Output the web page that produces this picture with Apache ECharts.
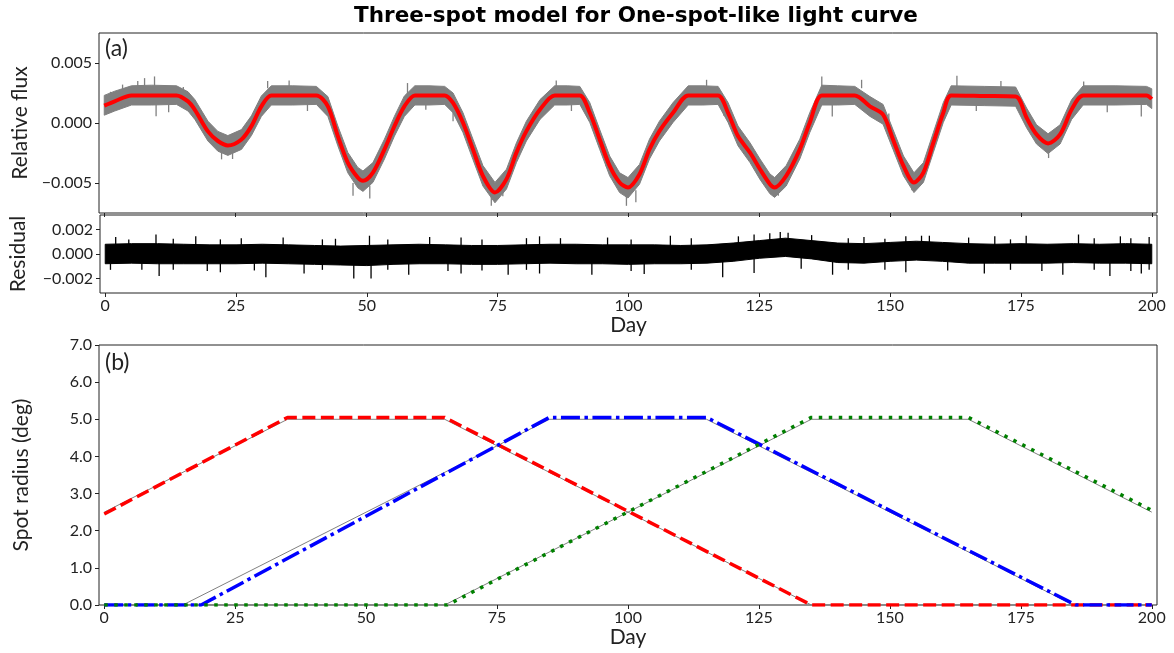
<!DOCTYPE html>
<html><head><meta charset="utf-8">
<script src="https://cdn.jsdelivr.net/npm/echarts@6/dist/echarts.min.js"></script>
<style>html,body{margin:0;padding:0;background:#fff}#c{width:1174px;height:653px}</style>
</head><body><div id="c"></div>
<script>
// ---------- tick labels ----------
const dayTicks = [0, 25, 50, 75, 100, 125, 150, 175, 200];
const fluxTicks = [-0.005, 0, 0.005];
const residualTicks = [-0.002, 0, 0.002];

// ---------- panel (a): light curve ----------
const modelDays = [0,2,5.2,9,13.8,16,17.3,19.8,21.7,23.6,26.2,28.1,30,31.9,36,40.5,42.7,44.6,46.5,48.4,49.4,51.3,53.5,55.4,57.3,59.3,62,65,66.6,68.5,70.4,72.3,74.6,76.8,78.7,80.6,83.2,86,88.4,90.8,92.7,94.6,96.5,98.4,100,102.2,104.1,106,108.6,111.5,114.3,117.2,119.1,121,123.3,125.2,127.1,128,130.2,132.8,134.7,137,140,143.3,146.2,148.7,150.6,152.6,154.6,156.4,158.3,160.2,161.7,168,174,176.1,178,180.2,182.5,184.7,186.9,193,199,200];
const modelFlux = [1.45e-3,1.81e-3,2.3e-3,2.3e-3,2.3e-3,1.8e-3,1.1e-3,-0.7e-3,-1.5e-3,-1.87e-3,-1.37e-3,-0.26e-3,1.39e-3,2.3e-3,2.3e-3,2.3e-3,1.39e-3,-1.09e-3,-3.3e-3,-4.54e-3,-4.82e-3,-4.13e-3,-2.2e-3,-0.27e-3,1.39e-3,2.3e-3,2.3e-3,2.3e-3,1.67e-3,0.02e-3,-2.2e-3,-4.41e-3,-5.79e-3,-4.68e-3,-2.47e-3,-0.68e-3,1.12e-3,2.3e-3,2.3e-3,2.3e-3,0.85e-3,-1.37e-3,-3.58e-3,-4.96e-3,-5.37e-3,-4.27e-3,-2.2e-3,-0.68e-3,0.85e-3,2.3e-3,2.3e-3,2.3e-3,0.85e-3,-1.09e-3,-2.47e-3,-3.85e-3,-5.1e-3,-5.37e-3,-4.41e-3,-2.2e-3,0.02e-3,2.3e-3,2.3e-3,2.3e-3,1.39e-3,0.7e-3,-1.37e-3,-3.58e-3,-4.96e-3,-4.13e-3,-1.64e-3,0.85e-3,2.3e-3,2.25e-3,2.2e-3,0.43e-3,-0.95e-3,-1.7e-3,-0.95e-3,1.12e-3,2.3e-3,2.3e-3,2.3e-3,2.0e-3];
// observed (noisy) flux: dense core envelope
const fluxUpper = [2.3e-3,2.65e-3,3.1e-3,3.15e-3,3.1e-3,2.6e-3,1.95e-3,0.15e-3,-0.7e-3,-1.05e-3,-0.55e-3,0.6e-3,2.25e-3,3.1e-3,3.1e-3,3.05e-3,2.2e-3,-0.25e-3,-2.45e-3,-3.7e-3,-4.0e-3,-3.3e-3,-1.35e-3,0.55e-3,2.25e-3,3.1e-3,3.1e-3,3.05e-3,2.5e-3,0.85e-3,-1.35e-3,-3.55e-3,-4.95e-3,-3.85e-3,-1.65e-3,0.15e-3,1.95e-3,3.1e-3,3.1e-3,3.05e-3,1.7e-3,-0.55e-3,-2.75e-3,-4.15e-3,-4.55e-3,-3.45e-3,-1.35e-3,0.15e-3,1.7e-3,3.1e-3,3.1e-3,3.05e-3,1.7e-3,-0.25e-3,-1.65e-3,-3.0e-3,-4.25e-3,-4.55e-3,-3.55e-3,-1.35e-3,0.85e-3,3.15e-3,3.1e-3,3.05e-3,2.2e-3,1.55e-3,-0.55e-3,-2.75e-3,-4.15e-3,-3.3e-3,-0.8e-3,1.7e-3,3.1e-3,3.05e-3,3.0e-3,1.25e-3,-0.15e-3,-0.9e-3,-0.15e-3,1.95e-3,3.1e-3,3.1e-3,3.05e-3,2.85e-3];
const fluxLower = [0.65e-3,1.0e-3,1.5e-3,1.5e-3,1.55e-3,1.0e-3,0.3e-3,-1.5e-3,-2.35e-3,-2.7e-3,-2.2e-3,-1.05e-3,0.55e-3,1.5e-3,1.5e-3,1.55e-3,0.55e-3,-1.9e-3,-4.15e-3,-5.4e-3,-5.7e-3,-4.95e-3,-3.0e-3,-1.1e-3,0.55e-3,1.5e-3,1.5e-3,1.55e-3,0.85e-3,-0.8e-3,-3.05e-3,-5.25e-3,-6.65e-3,-5.5e-3,-3.3e-3,-1.5e-3,0.3e-3,1.5e-3,1.5e-3,1.55e-3,0.05e-3,-2.2e-3,-4.4e-3,-5.8e-3,-6.25e-3,-5.1e-3,-3.0e-3,-1.5e-3,0.05e-3,1.5e-3,1.5e-3,1.55e-3,0.05e-3,-1.9e-3,-3.3e-3,-4.7e-3,-5.9e-3,-6.2e-3,-5.25e-3,-3.0e-3,-0.8e-3,1.5e-3,1.5e-3,1.55e-3,0.55e-3,-0.1e-3,-2.2e-3,-4.4e-3,-5.8e-3,-4.95e-3,-2.45e-3,0.05e-3,1.5e-3,1.45e-3,1.4e-3,-0.4e-3,-1.75e-3,-2.55e-3,-1.75e-3,0.3e-3,1.5e-3,1.5e-3,1.55e-3,1.2e-3];
// individual outlying flux points (spikes): day, low end, high end
const fluxSpikeDays = [1.2,3.5,6.4,7.7,9.6,9.9,12.3,15.1,22.4,24.5,31.2,35.3,38.8,47.5,50.7,57.9,61.4,66.6,73.9,76.1,86.3,89.2,95.8,99.7,101.5,115,118.3,128.7,137,139,144.6,149.8,154.2,162.8,166.5,171.2,180.3,187,191.5,198];
const fluxSpikeLow = [0.9e-3,1.8e-3,2.9e-3,2.9e-3,2.9e-3,0.56e-3,0.9e-3,2.4e-3,-3.03e-3,-3.0e-3,2.9e-3,2.9e-3,1.0e-3,-6.07e-3,-6.3e-3,2.2e-3,1.1e-3,0.15e-3,-6.9e-3,-6.1e-3,2.9e-3,1.0e-3,-3.6e-3,-6.9e-3,-6.6e-3,2.9e-3,0.6e-3,-6.07e-3,2.9e-3,0.55e-3,2.9e-3,-0.8e-3,-5.6e-3,2.9e-3,1.0e-3,2.9e-3,-2.92e-3,2.9e-3,0.9e-3,0.55e-3];
const fluxSpikeHigh = [2.6e-3,3.2e-3,3.5e-3,3.74e-3,3.88e-3,2.0e-3,2.0e-3,3.0e-3,-2.0e-3,-2.0e-3,3.5e-3,3.55e-3,2.0e-3,-5.0e-3,-5.2e-3,3.33e-3,2.0e-3,1.2e-3,-5.8e-3,-5.0e-3,3.55e-3,2.0e-3,-2.5e-3,-5.8e-3,-5.6e-3,3.6e-3,2.0e-3,-5.0e-3,3.88e-3,2.0e-3,3.6e-3,0.8e-3,-4.5e-3,3.93e-3,2.0e-3,3.5e-3,-1.8e-3,3.45e-3,2.0e-3,2.0e-3];

// ---------- residual ----------
const residualDays = [0,5,10,15,20,25,30,35,40,45,50,55,60,65,70,75,80,85,90,95,100,105,110,115,120,125,130,135,140,145,150,155,160,165,170,175,180,185,190,195,200];
const residualUpper = [0.8e-3,0.85e-3,0.85e-3,0.8e-3,0.75e-3,0.75e-3,0.8e-3,0.75e-3,0.7e-3,0.65e-3,0.7e-3,0.75e-3,0.8e-3,0.75e-3,0.7e-3,0.7e-3,0.75e-3,0.8e-3,0.8e-3,0.75e-3,0.75e-3,0.75e-3,0.7e-3,0.75e-3,0.9e-3,1.1e-3,1.3e-3,1.1e-3,0.9e-3,0.85e-3,0.95e-3,1.05e-3,0.95e-3,0.85e-3,0.8e-3,0.85e-3,0.8e-3,0.85e-3,0.8e-3,0.85e-3,0.8e-3];
const residualLower = [-0.8e-3,-0.75e-3,-0.8e-3,-0.8e-3,-0.8e-3,-0.8e-3,-0.75e-3,-0.8e-3,-0.85e-3,-0.9e-3,-0.95e-3,-0.85e-3,-0.8e-3,-0.8e-3,-0.85e-3,-0.85e-3,-0.8e-3,-0.75e-3,-0.8e-3,-0.8e-3,-0.85e-3,-0.8e-3,-0.8e-3,-0.75e-3,-0.6e-3,-0.35e-3,-0.2e-3,-0.4e-3,-0.7e-3,-0.75e-3,-0.6e-3,-0.5e-3,-0.6e-3,-0.75e-3,-0.75e-3,-0.75e-3,-0.75e-3,-0.7e-3,-0.75e-3,-0.75e-3,-0.8e-3];
const residualSpikeDays = [1,2,4.5,7,9.7,10.3,13,17.3,19.5,22,26,28.5,30.7,34,38,41.5,44,47.5,50.5,50.8,54,58,62,65.5,68,72,77,80.5,83,87,93,96,100.5,103,108,112,118,121,124,127,129,130.5,133,135,139,142,145,149,153,156,157.5,161,165,168,170,173,176,179,183,186,189,192,194,196,198,199.5];
const residualSpikeLow = [-1.3e-3,0,0,-1.3e-3,0,-1.8e-3,-1.3e-3,0,-1.4e-3,-1.5e-3,0,-1.35e-3,-1.9e-3,0,-1.6e-3,-1.3e-3,0,-2.0e-3,0,-2.0e-3,-1.3e-3,-1.7e-3,0,-1.4e-3,-1.6e-3,-1.35e-3,-1.7e-3,-1.3e-3,-1.6e-3,0,-1.7e-3,0,-1.4e-3,-1.65e-3,0,-1.3e-3,-1.9e-3,0,-1.55e-3,0,0,0,-1.2e-3,0,-1.7e-3,-1.3e-3,0,-1.3e-3,-1.5e-3,0,0,-1.35e-3,0,-1.6e-3,0,-1.3e-3,0,-1.4e-3,-1.7e-3,0,-1.3e-3,-1.8e-3,0,-1.4e-3,-1.6e-3,-1.3e-3];
const residualSpikeHigh = [0,1.4e-3,1.2e-3,0,1.6e-3,0,1.25e-3,1.45e-3,0,1.2e-3,1.3e-3,0,0,1.35e-3,0,1.2e-3,1.25e-3,0,1.5e-3,0,1.2e-3,0,1.4e-3,0,1.35e-3,1.2e-3,0,1.3e-3,1.45e-3,1.3e-3,0,1.35e-3,1.2e-3,0,1.5e-3,1.3e-3,0,1.45e-3,1.6e-3,1.7e-3,1.8e-3,1.75e-3,0,1.55e-3,0,1.3e-3,1.4e-3,1.25e-3,1.45e-3,1.5e-3,1.5e-3,0,1.35e-3,0,1.45e-3,1.2e-3,1.5e-3,0,0,1.6e-3,1.3e-3,0,1.45e-3,1.3e-3,0,1.4e-3];

// ---------- panel (b): spot radii ----------
const trueSpot1Days = [0, 35, 65, 135, 200];
const trueSpot1Radius = [2.5, 5.0, 5.0, 0.0, 0.0];
const trueSpot2Days = [0, 15, 85, 115, 185, 200];
const trueSpot2Radius = [0.0, 0.0, 5.0, 5.0, 0.0, 0.0];
const trueSpot3Days = [0, 65, 135, 165, 200];
const trueSpot3Radius = [0.0, 0.0, 5.0, 5.0, 2.5];
const fitSpot1Days = [0, 35, 65, 135, 200];
const fitSpot1Radius = [2.45, 5.05, 5.05, 0.0, 0.0];
const fitSpot2Days = [0, 18.5, 85, 115, 185.5, 200];
const fitSpot2Radius = [0.0, 0.0, 5.05, 5.05, 0.0, 0.0];
const fitSpot3Days = [0, 65.5, 135, 165, 200];
const fitSpot3Radius = [0.0, 0.0, 5.05, 5.05, 2.55];

const FONT = 'Lato';
const TXT = '#222';
const pairs = (xs, ys) => xs.map((x, i) => [x, ys[i]]);

function bandSeries(xi, yi, days, lower, upper, color, z) {
  return {
    type: 'custom', xAxisIndex: xi, yAxisIndex: yi, z: z, silent: true,
    data: days.map((d, i) => [d, lower[i], upper[i]]),
    renderItem: function (params, api) {
      if (params.dataIndex !== 0) return null;
      const pts = [];
      for (let i = 0; i < days.length; i++) pts.push(api.coord([days[i], upper[i]]));
      for (let i = days.length - 1; i >= 0; i--) pts.push(api.coord([days[i], lower[i]]));
      return { type: 'polygon', shape: { points: pts }, style: { fill: color, stroke: color, lineWidth: 1 } };
    }
  };
}
function spikeSeries(xi, yi, days, low, high, color, z) {
  return {
    type: 'custom', xAxisIndex: xi, yAxisIndex: yi, z: z, silent: true,
    data: days.map((d, i) => [d, low[i], high[i]]),
    renderItem: function (params, api) {
      const a = api.coord([api.value(0), api.value(1)]);
      const b = api.coord([api.value(0), api.value(2)]);
      return { type: 'line', shape: { x1: a[0], y1: a[1], x2: b[0], y2: b[1] }, style: { stroke: color, lineWidth: 1.3 } };
    }
  };
}

function signFmt(v, d) {
  if (Math.abs(v) < 1e-12) return (0).toFixed(d);
  return (v < 0 ? '\u2212' : '') + Math.abs(v).toFixed(d);
}

const tickStyle = { show: true, length: 4, lineStyle: { color: '#222', width: 1 } };
const labelBase = { color: TXT, fontFamily: FONT, fontSize: 16 };
const nameStyle = { color: TXT, fontFamily: FONT, fontSize: 21 };

function xAxisDef(gi, showLabels, name) {
  return {
    type: 'value', gridIndex: gi, min: -1, max: 201,
    axisLine: { show: false, onZero: false }, splitLine: { show: false },
    axisTick: Object.assign({ customValues: dayTicks }, tickStyle),
    axisLabel: Object.assign({ show: showLabels, customValues: dayTicks, margin: 5 }, labelBase),
    name: name || '', nameLocation: 'middle', nameGap: 21, nameTextStyle: nameStyle
  };
}
function yAxisDef(gi, min, max, ticks, name, gap) {
  return {
    type: 'value', gridIndex: gi, min: min, max: max,
    axisLine: { show: false, onZero: false }, splitLine: { show: false },
    axisTick: Object.assign({ customValues: ticks }, tickStyle),
    axisLabel: Object.assign({ customValues: ticks, margin: 7, formatter: v => signFmt(v, 3) }, labelBase),
    name: name, nameLocation: 'middle', nameGap: gap, nameTextStyle: nameStyle
  };
}

const option = {
  animation: false,
  backgroundColor: '#fff',
  grid: [
    { left: 99, right: 17, top: 33, height: 180, show: true, borderColor: '#222', borderWidth: 1 },
    { left: 99, right: 17, top: 215, height: 78, show: true, borderColor: '#222', borderWidth: 1 },
    { left: 99, right: 17, top: 345, height: 260, show: true, borderColor: '#222', borderWidth: 1 }
  ],
  xAxis: [ xAxisDef(0, false), xAxisDef(1, true, 'Day'), xAxisDef(2, true, 'Day') ],
  yAxis: [
    yAxisDef(0, -0.0075, 0.0075, fluxTicks, 'Relative flux', 68),
    yAxisDef(1, -0.0032, 0.0032, residualTicks, 'Residual', 71),
    { type: 'value', gridIndex: 2, min: 0, max: 7, interval: 1,
      axisLine: { show: false, onZero: false }, splitLine: { show: false },
      axisTick: tickStyle,
      axisLabel: Object.assign({ margin: 7, formatter: v => v.toFixed(1) }, labelBase),
      name: 'Spot radius (deg)', nameLocation: 'middle', nameGap: 67, nameTextStyle: nameStyle }
  ],
  graphic: [
    { type: 'text', x: 636, y: 16, style: { text: 'Three-spot model for One-spot-like light curve', fill: '#000', font: 'bold 21.5px "DejaVu Sans"', textAlign: 'center', textVerticalAlign: 'middle' } },
    { type: 'text', x: 105, y: 49, style: { text: '(a)', fill: TXT, font: '23px Lato', textAlign: 'left', textVerticalAlign: 'middle' } },
    { type: 'text', x: 105, y: 363, style: { text: '(b)', fill: TXT, font: '23px Lato', textAlign: 'left', textVerticalAlign: 'middle' } }
  ],
  series: [
    bandSeries(0, 0, modelDays, fluxLower, fluxUpper, '#808080', 1),
    spikeSeries(0, 0, fluxSpikeDays, fluxSpikeLow, fluxSpikeHigh, '#808080', 1),
    { type: 'line', xAxisIndex: 0, yAxisIndex: 0, z: 3, data: pairs(modelDays, modelFlux), showSymbol: false, smooth: 0.3,
      lineStyle: { color: '#ff0000', width: 4 } },
    bandSeries(1, 1, residualDays, residualLower, residualUpper, '#000000', 1),
    spikeSeries(1, 1, residualSpikeDays, residualSpikeLow, residualSpikeHigh, '#000000', 1),
    { type: 'line', xAxisIndex: 2, yAxisIndex: 2, z: 2, data: pairs(trueSpot1Days, trueSpot1Radius), showSymbol: false, lineStyle: { color: '#808080', width: 1 } },
    { type: 'line', xAxisIndex: 2, yAxisIndex: 2, z: 2, data: pairs(trueSpot2Days, trueSpot2Radius), showSymbol: false, lineStyle: { color: '#808080', width: 1 } },
    { type: 'line', xAxisIndex: 2, yAxisIndex: 2, z: 2, data: pairs(trueSpot3Days, trueSpot3Radius), showSymbol: false, lineStyle: { color: '#808080', width: 1 } },
    { type: 'line', xAxisIndex: 2, yAxisIndex: 2, z: 3, data: pairs(fitSpot1Days, fitSpot1Radius), showSymbol: false, lineStyle: { color: '#ff0000', width: 3.5, type: [13, 5.5], cap: 'butt' } },
    { type: 'line', xAxisIndex: 2, yAxisIndex: 2, z: 3, data: pairs(fitSpot2Days, fitSpot2Radius), showSymbol: false, lineStyle: { color: '#0000ff', width: 3.5, type: [19, 4.5, 3.5, 4.5], cap: 'butt' } },
    { type: 'line', xAxisIndex: 2, yAxisIndex: 2, z: 3, data: pairs(fitSpot3Days, fitSpot3Radius), showSymbol: false, lineStyle: { color: '#008000', width: 3.5, type: [3.5, 6.5], cap: 'butt' } }
  ]
};
const chart = echarts.init(document.getElementById('c'), null, { renderer: 'canvas' });
chart.setOption(option);
</script></body></html>
